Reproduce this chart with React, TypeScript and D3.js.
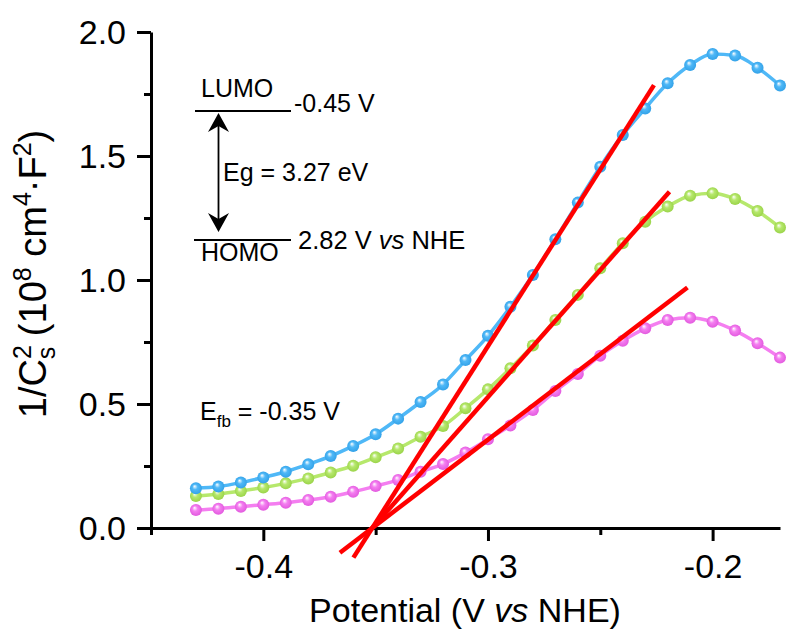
import React, { useEffect, useRef } from "react";
import * as d3 from "d3";

// potential (V vs NHE) and 1/Cs^2 (10^8 cm^4 F^-2) for the three samples
const potential = [-0.43, -0.42, -0.41, -0.40, -0.39, -0.38, -0.37, -0.36, -0.35, -0.34, -0.33, -0.32, -0.31, -0.30,
  -0.29, -0.28, -0.27, -0.26, -0.25, -0.24, -0.23, -0.22, -0.21, -0.20, -0.19, -0.18, -0.17];
const blueSeries = [0.160, 0.167, 0.183, 0.204, 0.227, 0.257, 0.290, 0.331, 0.378, 0.441, 0.508, 0.579, 0.677, 0.775,
  0.892, 1.020, 1.164, 1.312, 1.457, 1.585, 1.692, 1.793, 1.867, 1.911, 1.905, 1.856, 1.784];
const greenSeries = [0.129, 0.137, 0.149, 0.163, 0.180, 0.200, 0.224, 0.251, 0.285, 0.321, 0.368, 0.411, 0.483, 0.559,
  0.644, 0.736, 0.839, 0.940, 1.047, 1.148, 1.235, 1.296, 1.340, 1.350, 1.327, 1.278, 1.212];
const pinkSeries = [0.073, 0.078, 0.086, 0.094, 0.102, 0.113, 0.126, 0.146, 0.169, 0.194, 0.227, 0.258, 0.304, 0.358,
  0.413, 0.476, 0.552, 0.621, 0.695, 0.755, 0.805, 0.839, 0.848, 0.832, 0.796, 0.745, 0.687];

const xMajorTicks = [-0.4, -0.3, -0.2];
const xMinorTicks = [-0.45, -0.35, -0.25];
const yMajorTicks = [0, 0.5, 1.0, 1.5, 2.0];
const yMinorTicks = [0.25, 0.75, 1.25, 1.75];

// tangent (Mott-Schottky) fits: start, end, slope, all through Efb
const flatBand = -0.3515;
const fitStart = [-0.3599, -0.352, -0.3659];
const fitEnd = [-0.2261, -0.2192, -0.2112];
const fitSlope = [14.24, 10.25, 6.91];

const W = 786, H = 633;

function App() {
  const ref = useRef<SVGSVGElement>(null);

  useEffect(() => {
    const svg = d3.select(ref.current);
    svg.selectAll("*").remove();

    const x = d3.scaleLinear().domain([-0.45, -0.17]).range([151, 780]);
    const y = d3.scaleLinear().domain([0, 2]).range([528, 32]);
    const fmt = (d: any) => (+d).toFixed(1);

    const defs = svg.append("defs");
    const series = [
      { name: "pink", values: pinkSeries, color: "#f47ef0", dark: "#e055dc" },
      { name: "green", values: greenSeries, color: "#b6e86c", dark: "#97d145" },
      { name: "blue", values: blueSeries, color: "#4fb8f7", dark: "#2f9fe6" },
    ];
    series.forEach(s => {
      const g = defs.append("radialGradient").attr("id", "ball-" + s.name)
        .attr("cx", "50%").attr("cy", "50%").attr("r", "55%").attr("fx", "38%").attr("fy", "32%");
      g.append("stop").attr("offset", "0%").attr("stop-color", "#ffffff");
      g.append("stop").attr("offset", "40%").attr("stop-color", s.color);
      g.append("stop").attr("offset", "100%").attr("stop-color", s.dark);
    });

    // axes
    const axisFont = "Liberation Sans, Arial, sans-serif";
    const xAxis = svg.append("g").attr("transform", "translate(0,528)")
      .call(d3.axisBottom(x).tickValues(xMajorTicks).tickSize(13).tickSizeOuter(0).tickPadding(13).tickFormat(fmt));
    svg.append("g").attr("transform", "translate(0,528)")
      .call(d3.axisBottom(x).tickValues(xMinorTicks).tickSize(7).tickSizeOuter(0).tickFormat(() => ""))
      .select(".domain").remove();
    const yAxis = svg.append("g").attr("transform", "translate(151,0)")
      .call(d3.axisLeft(y).tickValues(yMajorTicks).tickSize(14).tickSizeOuter(0).tickPadding(11).tickFormat(fmt));
    svg.append("g").attr("transform", "translate(151,0)")
      .call(d3.axisLeft(y).tickValues(yMinorTicks).tickSize(7).tickSizeOuter(0).tickFormat(() => ""))
      .select(".domain").remove();
    svg.selectAll(".domain, .tick line").attr("stroke", "#000").attr("stroke-width", 3);
    svg.selectAll(".tick text").attr("font-family", axisFont).attr("font-size", 34).attr("fill", "#000");
    xAxis.selectAll(".tick text").attr("dy", "0.71em");
    yAxis.selectAll(".tick text").attr("dy", "0.35em");

    // axis titles
    svg.append("text").attr("x", 465).attr("y", 622).attr("text-anchor", "middle")
      .attr("font-family", axisFont).attr("font-size", 34)
      .call(t => {
        t.append("tspan").text("Potential (V ");
        t.append("tspan").attr("font-style", "italic").text("vs");
        t.append("tspan").text(" NHE)");
      });

    const yt = svg.append("text").attr("transform", "translate(46,274) rotate(-90)").attr("text-anchor", "middle")
      .attr("font-family", axisFont).attr("font-size", 38);
    yt.append("tspan").text("1/C");
    yt.append("tspan").attr("font-size", 25).attr("dy", -15).text("2");
    yt.append("tspan").attr("font-size", 25).attr("dx", -14).attr("dy", 24).text("s");
    yt.append("tspan").attr("dy", -9).text(" (10");
    yt.append("tspan").attr("font-size", 25).attr("dy", -15).text("8");
    yt.append("tspan").attr("dy", 15).text(" cm");
    yt.append("tspan").attr("font-size", 25).attr("dy", -15).text("4");
    yt.append("tspan").attr("dy", 15).text("\u00b7F");
    yt.append("tspan").attr("font-size", 25).attr("dy", -15).text("2");
    yt.append("tspan").attr("dy", 15).text(")");

    // data
    const line = d3.line<number>().x((_, i) => x(potential[i])).y(d => y(d)).curve(d3.curveMonotoneX);
    series.forEach(s => {
      svg.append("path").attr("d", line(s.values)).attr("fill", "none")
        .attr("stroke", s.color).attr("stroke-width", 3.5);
      svg.append("g").selectAll("circle").data(s.values).join("circle")
        .attr("cx", (_, i) => x(potential[i])).attr("cy", d => y(d)).attr("r", 6)
        .attr("fill", `url(#ball-${s.name})`);
    });

    // linear fits
    const fitLine = d3.line<number[]>().x(d => x(d[0])).y(d => y(d[1]));
    fitSlope.forEach((k, i) => {
      const pts = [fitStart[i], fitEnd[i]].map(v => [v, k * (v - flatBand)]);
      svg.append("path").attr("d", fitLine(pts)).attr("stroke", "#ff0000")
        .attr("stroke-width", 4.5).attr("fill", "none");
    });

    // band diagram annotation
    const ann = svg.append("g").attr("font-family", axisFont).attr("font-size", 25).attr("fill", "#000");
    ann.append("text").attr("x", 201).attr("y", 97).text("LUMO");
    ann.append("line").attr("x1", 195).attr("x2", 291).attr("y1", 111).attr("y2", 111).attr("stroke", "#000").attr("stroke-width", 1.8);
    ann.append("text").attr("x", 294).attr("y", 112).text("-0.45 V");
    ann.append("line").attr("x1", 194).attr("x2", 291).attr("y1", 240).attr("y2", 240).attr("stroke", "#000").attr("stroke-width", 1.8);
    ann.append("text").attr("x", 201).attr("y", 261).text("HOMO");
    ann.append("text").attr("x", 298).attr("y", 249).attr("font-size", 25.5)
      .call(t => {
        t.append("tspan").text("2.82 V ");
        t.append("tspan").attr("font-style", "italic").text("vs");
        t.append("tspan").text(" NHE");
      });
    ann.append("text").attr("x", 223).attr("y", 181).text("Eg = 3.27 eV");
    const ax = 218.5, top = 113, bot = 232;
    ann.append("line").attr("x1", ax).attr("x2", ax).attr("y1", top + 8).attr("y2", bot - 8).attr("stroke", "#000").attr("stroke-width", 1.8);
    ann.append("path").attr("d", `M${ax},${top} L${ax + 10.5},${top + 19} L${ax},${top + 13} L${ax - 10.5},${top + 19} Z`);
    ann.append("path").attr("d", `M${ax},${bot} L${ax + 10.5},${bot - 19} L${ax},${bot - 13} L${ax - 10.5},${bot - 19} Z`);

    const efb = ann.append("text").attr("x", 200).attr("y", 420);
    efb.append("tspan").text("E");
    efb.append("tspan").attr("font-size", 17).attr("dy", 7).text("fb");
    efb.append("tspan").attr("dy", -7).text(" = -0.35 V");
  }, []);

  return (
    <svg ref={ref} width={W} height={H} style={{ position: "absolute", left: 0, top: 0, background: "#fff" }} />
  );
}

export default App;
